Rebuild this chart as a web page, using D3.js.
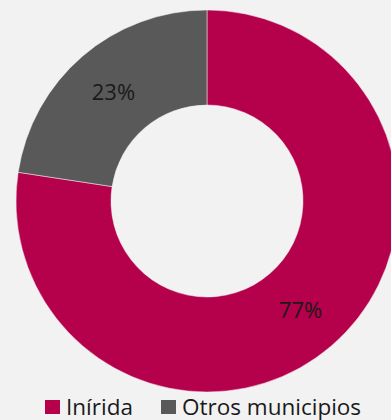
<!DOCTYPE html>
<html><head><meta charset="utf-8">
<script src="https://cdn.jsdelivr.net/npm/d3@7"></script>
<style>
html,body{margin:0;padding:0;background:#f2f2f2;}
svg{display:block;font-family:"Open Sans",sans-serif;}
</style></head>
<body>
<svg id="chart" width="391" height="420"></svg>
<script>
const categories = ["Inírida", "Otros municipios"];
const values = [77.4, 22.6];
const labels = ["77%", "23%"];
const colors = ["#b5004b", "#595959"];

const svg = d3.select("#chart");
const W = 391, H = 420;
svg.append("rect").attr("width", W).attr("height", H).attr("fill", "#f2f2f2");

const cx = 207, cy = 201, outerR = 191, innerR = 96;
const pie = d3.pie().sort(null).value(d => d)(values);
const arc = d3.arc().innerRadius(innerR).outerRadius(outerR);
const color = d3.scaleOrdinal().domain(categories).range(colors);

const g = svg.append("g").attr("transform", `translate(${cx},${cy})`);
g.selectAll("path").data(pie).join("path")
  .attr("d", arc)
  .attr("fill", (d, i) => color(categories[i]))
  .attr("stroke", "#f2f2f2").attr("stroke-width", 0.5);

g.selectAll("text").data(pie).join("text")
  .attr("transform", d => `translate(${arc.centroid(d)})`)
  .attr("text-anchor", "middle")
  .attr("dy", "0.36em")
  .attr("font-size", 22)
  .attr("fill", "#1a1a1a")
  .text((d, i) => labels[i]);

const legendX = [45, 161];
const lg = svg.append("g");
categories.forEach((c, i) => {
  lg.append("rect").attr("x", legendX[i]).attr("y", 400).attr("width", 15).attr("height", 14).attr("fill", color(c));
  lg.append("text").attr("x", legendX[i] + 21).attr("y", 414.5).attr("font-size", 22.5).attr("fill", "#1a1a1a").text(c);
});
</script>
</body></html>
